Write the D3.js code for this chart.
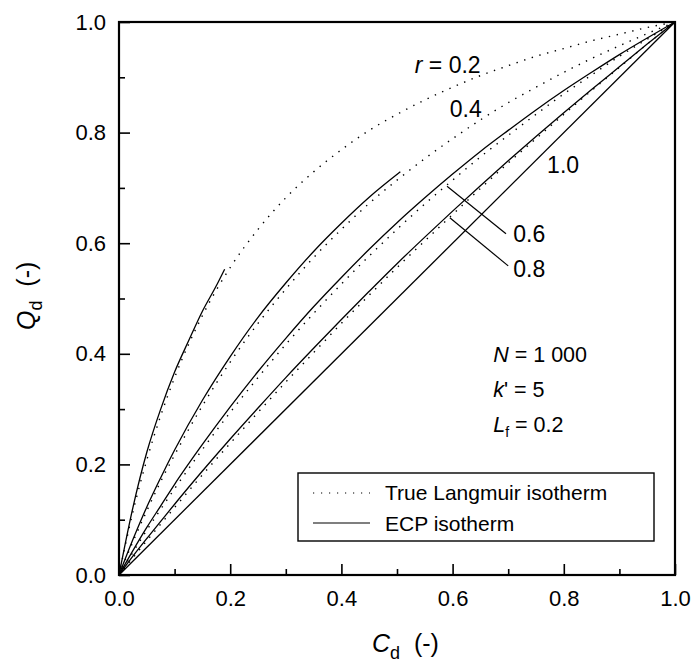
<!DOCTYPE html>
<html>
<head>
<meta charset="utf-8">
<script src="https://cdn.jsdelivr.net/npm/d3@7"></script>
<style>
  body { margin: 0; background: #fff; }
  text { font-family: "Liberation Sans", Arial, sans-serif; fill: #000; }
</style>
</head>
<body>
<svg></svg>
<script>
// concentration grid used for the Langmuir curves and the long ECP curves
var cGrid = [0, 0.025, 0.05, 0.075, 0.1, 0.15, 0.2, 0.25, 0.3, 0.35, 0.4, 0.45, 0.5,
  0.55, 0.6, 0.65, 0.7, 0.75, 0.8, 0.85, 0.9, 0.95, 1.0];

// true Langmuir isotherm (dotted), one per separation factor r
var lang02 = [0, 0.114, 0.208, 0.288, 0.357, 0.469, 0.556, 0.625, 0.682, 0.729, 0.769, 0.804,
  0.833, 0.859, 0.882, 0.903, 0.921, 0.938, 0.952, 0.966, 0.978, 0.990, 1];
var lang04 = [0, 0.060, 0.116, 0.169, 0.217, 0.306, 0.385, 0.455, 0.517, 0.574, 0.625, 0.672,
  0.714, 0.753, 0.789, 0.823, 0.854, 0.882, 0.909, 0.934, 0.957, 0.979, 1];
var lang06 = [0, 0.041, 0.081, 0.119, 0.156, 0.227, 0.294, 0.357, 0.417, 0.473, 0.526, 0.577,
  0.625, 0.671, 0.714, 0.756, 0.795, 0.833, 0.870, 0.904, 0.938, 0.969, 1];
var lang08 = [0, 0.031, 0.062, 0.092, 0.122, 0.181, 0.238, 0.294, 0.349, 0.402, 0.455, 0.506,
  0.556, 0.604, 0.652, 0.699, 0.745, 0.789, 0.833, 0.876, 0.918, 0.960, 1];

// ECP isotherm (solid)
var ecpC02 = [0, 0.025, 0.05, 0.075, 0.1, 0.125, 0.15, 0.175, 0.19];
var ecpQ02 = [0, 0.122, 0.222, 0.300, 0.367, 0.423, 0.477, 0.523, 0.553];
var ecpC04 = [0, 0.025, 0.05, 0.075, 0.1, 0.15, 0.2, 0.25, 0.3, 0.35, 0.4, 0.45, 0.506];
var ecpQ04 = [0, 0.064, 0.123, 0.176, 0.226, 0.316, 0.395, 0.466, 0.528, 0.585, 0.636, 0.683, 0.729];
var ecp06 = [0, 0.044, 0.086, 0.125, 0.164, 0.236, 0.304, 0.368, 0.428, 0.485, 0.538, 0.589,
  0.637, 0.682, 0.725, 0.766, 0.804, 0.841, 0.876, 0.909, 0.941, 0.971, 1];
var ecp08 = [0, 0.034, 0.066, 0.097, 0.128, 0.188, 0.246, 0.302, 0.357, 0.410, 0.462, 0.513,
  0.563, 0.611, 0.658, 0.704, 0.749, 0.793, 0.836, 0.878, 0.919, 0.960, 1];
// r = 1.0 : linear isotherm
var linC = [0, 1];
var linQ = [0, 1];

var majorTicks = [0, 0.2, 0.4, 0.6, 0.8, 1.0];
var minorTicks = [0.1, 0.3, 0.5, 0.7, 0.9];

function zip(cs, qs) {
  return cs.map(function (c, i) { return { c: c, q: qs[i] }; });
}

var svgWidth = 696, svgHeight = 664;
var margin = { top: 22, right: 21, bottom: 89, left: 119 };
var width = svgWidth - margin.left - margin.right;
var height = svgHeight - margin.top - margin.bottom;

var svg = d3.select("svg")
  .attr("width", svgWidth)
  .attr("height", svgHeight);

var g = svg.append("g")
  .attr("transform", "translate(" + margin.left + "," + margin.top + ")");

var x = d3.scaleLinear().domain([0, 1]).range([0, width]);
var y = d3.scaleLinear().domain([0, 1]).range([height, 0]);

// axes, ticks pointing inward
var xAxis = g.append("g")
  .attr("transform", "translate(0," + height + ")")
  .call(d3.axisBottom(x).tickValues(majorTicks).tickSize(-11).tickPadding(15)
    .tickFormat(d3.format(".1f")));
xAxis.selectAll("text").attr("font-size", 22);
g.append("g")
  .attr("transform", "translate(0," + height + ")")
  .call(d3.axisBottom(x).tickValues(minorTicks).tickSize(-6).tickFormat(""));

var yAxis = g.append("g")
  .call(d3.axisLeft(y).tickValues(majorTicks).tickSize(-11).tickPadding(13)
    .tickFormat(d3.format(".1f")));
yAxis.selectAll("text").attr("font-size", 22);
g.append("g")
  .call(d3.axisLeft(y).tickValues(minorTicks).tickSize(-6).tickFormat(""));

g.selectAll(".domain").remove();
g.selectAll(".tick line").attr("stroke", "#000").attr("stroke-width", 1.6);

// frame
g.append("rect")
  .attr("x", 0).attr("y", 0)
  .attr("width", width).attr("height", height)
  .attr("fill", "none")
  .attr("stroke", "#000")
  .attr("stroke-width", 2.2);

var line = d3.line()
  .x(function (d) { return x(d.c); })
  .y(function (d) { return y(d.q); })
  .curve(d3.curveMonotoneX);

var dotted = [lang02, lang04, lang06, lang08];
dotted.forEach(function (qs) {
  g.append("path")
    .datum(zip(cGrid, qs))
    .attr("fill", "none")
    .attr("stroke", "#000")
    .attr("stroke-width", 1.4)
    .attr("stroke-dasharray", "1.4,6.6")
    .attr("d", line);
});

var solid = [zip(ecpC02, ecpQ02), zip(ecpC04, ecpQ04), zip(cGrid, ecp06), zip(cGrid, ecp08), zip(linC, linQ)];
solid.forEach(function (pts) {
  g.append("path")
    .datum(pts)
    .attr("fill", "none")
    .attr("stroke", "#000")
    .attr("stroke-width", 1.3)
    .attr("d", line);
});

// curve labels
function label(c, q, str) {
  return g.append("text")
    .attr("x", x(c)).attr("y", y(q))
    .attr("font-size", 23)
    .text(str);
}
var rl = g.append("text").attr("x", x(0.532)).attr("y", y(0.908)).attr("font-size", 23);
rl.append("tspan").attr("font-style", "italic").text("r");
rl.append("tspan").text(" = 0.2");
label(0.595, 0.828, "0.4");
label(0.770, 0.727, "1.0");
label(0.709, 0.602, "0.6");
label(0.709, 0.539, "0.8");

// leader lines
[[0.590, 0.703, 0.696, 0.617], [0.595, 0.646, 0.700, 0.559]].forEach(function (l) {
  g.append("line")
    .attr("x1", x(l[0])).attr("y1", y(l[1]))
    .attr("x2", x(l[2])).attr("y2", y(l[3]))
    .attr("stroke", "#000")
    .attr("stroke-width", 1.2);
});

// parameters
var px = x(0.673);
var t1 = g.append("text").attr("x", px).attr("y", 340).attr("font-size", 21.5);
t1.append("tspan").attr("font-style", "italic").text("N");
t1.append("tspan").text(" = 1 000");
var t2 = g.append("text").attr("x", px).attr("y", 375).attr("font-size", 21.5);
t2.append("tspan").attr("font-style", "italic").text("k");
t2.append("tspan").text("' = 5");
var t3 = g.append("text").attr("x", px).attr("y", 410).attr("font-size", 21.5);
t3.append("tspan").attr("font-style", "italic").text("L");
t3.append("tspan").attr("font-size", 14).attr("dy", 5).text("f");
t3.append("tspan").attr("dy", -5).text(" = 0.2");

// legend
var lg = g.append("g").attr("transform", "translate(" + (298 - margin.left) + "," + (473 - margin.top) + ")");
lg.append("rect")
  .attr("width", 356).attr("height", 68)
  .attr("fill", "#fff")
  .attr("stroke", "#000")
  .attr("stroke-width", 1.4);
lg.append("line")
  .attr("x1", 15).attr("x2", 72).attr("y1", 20).attr("y2", 20)
  .attr("stroke", "#000").attr("stroke-width", 1.2)
  .attr("stroke-dasharray", "1.2,6.8");
lg.append("line")
  .attr("x1", 15).attr("x2", 72).attr("y1", 50).attr("y2", 50)
  .attr("stroke", "#000").attr("stroke-width", 1.1);
lg.append("text").attr("x", 87).attr("y", 27).attr("font-size", 21).text("True Langmuir isotherm");
lg.append("text").attr("x", 87).attr("y", 58).attr("font-size", 21).text("ECP isotherm");

// axis titles
var xt = svg.append("text").attr("x", 372).attr("y", 652).attr("font-size", 25);
xt.append("tspan").attr("font-style", "italic").text("C");
xt.append("tspan").attr("font-size", 18).attr("dy", 7).text("d");
xt.append("tspan").attr("dy", -7).text("\u00a0\u00a0(-)");

var yt = svg.append("text")
  .attr("transform", "translate(35,330) rotate(-90)")
  .attr("font-size", 25);
yt.append("tspan").attr("font-style", "italic").text("Q");
yt.append("tspan").attr("font-size", 18).attr("dy", 7).text("d");
yt.append("tspan").attr("dy", -7).text("\u00a0\u00a0(-)");
</script>
</body>
</html>
